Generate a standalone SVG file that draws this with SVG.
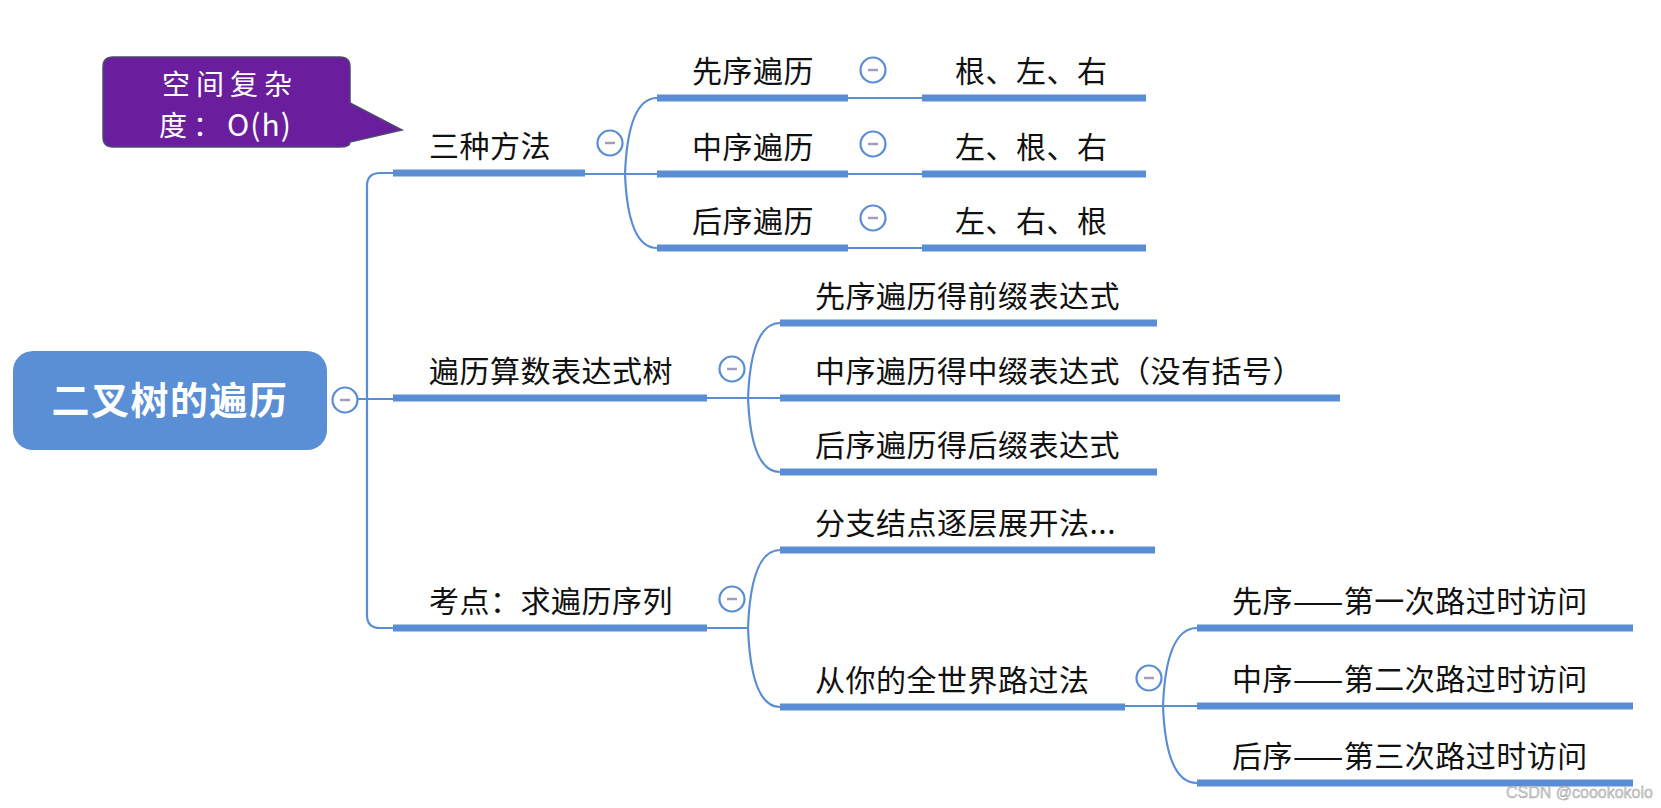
<svg xmlns="http://www.w3.org/2000/svg" width="1661" height="808" viewBox="0 0 1661 808">
<style>
.bg{fill:#ffffff}
.t{font-family:"Noto Sans CJK SC","Noto Sans",sans-serif;font-size:30px;fill:#111111;letter-spacing:0.5px}
.ul{stroke:#5b8dd4;stroke-width:7;fill:none}
.cn{stroke:#5b8dd4;stroke-width:2.2;fill:none}
.cc{fill:#ffffff;stroke:#5b8dd4;stroke-width:2.2}
.cm{stroke:#a49cbc;stroke-width:2.5}
.root{fill:#5a8fd6}
.rt{font-family:"Noto Sans CJK SC","Noto Sans",sans-serif;font-size:38px;font-weight:bold;fill:#ffffff;letter-spacing:1.5px}
.call{fill:#6a1e9e;stroke:#4b4b6b;stroke-width:1.5}
.ct{font-family:"Noto Sans CJK SC","Noto Sans",sans-serif;font-size:28px;fill:#ffffff;letter-spacing:6px}
.wm{font-family:"Liberation Sans","DejaVu Sans",sans-serif;font-size:16px;fill:#d4d4d4;stroke:#9a9a9a;stroke-width:0.4}
</style>
<defs>
<g id="col"><circle class="cc" r="12.5"/><line class="cm" x1="-5" y1="0" x2="5" y2="0"/></g>
</defs>
<rect class="bg" x="0" y="0" width="1661" height="808"/>

<g id="connectors">
  <path class="cn" d="M393 173 H380 Q367 173 367 186 V615 Q367 628 380 628 H393"/>
  <path class="cn" d="M357 399 H393"/>
  <path class="cn" d="M585 174 H657"/>
  <path class="cn" d="M657 98 Q628 98 625 174 Q628 248 657 248"/>
  <path class="cn" d="M848 98 H922"/>
  <path class="cn" d="M848 174 H922"/>
  <path class="cn" d="M848 248 H922"/>
  <path class="cn" d="M707 398 H780"/>
  <path class="cn" d="M780 323 Q751 323 748 398 Q751 472 780 472"/>
  <path class="cn" d="M707 628 H748"/>
  <path class="cn" d="M780 550 Q751 550 748 628 Q751 707 780 707"/>
  <path class="cn" d="M1125 706 H1197"/>
  <path class="cn" d="M1197 628 Q1166 628 1163 706 Q1166 783 1197 783"/>
</g>

<g id="callout">
  <path class="call" d="M113 57 H340 Q350 57 350 67 V103 L402 130 L350 142 Q350 147 340 147 H113 Q103 147 103 137 V67 Q103 57 113 57 Z"/>
  <text class="ct"><tspan x="230" y="95" text-anchor="middle">空间复杂</tspan><tspan x="159" y="136">度：<tspan style="letter-spacing:1px;font-size:30px">O(h)</tspan></tspan></text>
</g>

<g id="root">
  <rect class="root" x="13" y="351" width="314" height="99" rx="20"/>
  <text class="rt" x="170" y="414" text-anchor="middle">二叉树的遍历</text>
  <use href="#col" x="345" y="400"/>
</g>

<g id="n-three">
  <line class="ul" x1="393" y1="173" x2="585" y2="173"/>
  <text class="t" x="429" y="157">三种方法</text>
  <use href="#col" x="610" y="143"/>
</g>
<g id="n-pre">
  <line class="ul" x1="657" y1="98" x2="848" y2="98"/>
  <text class="t" x="692" y="82">先序遍历</text>
  <use href="#col" x="873" y="70"/>
</g>
<g id="n-in">
  <line class="ul" x1="657" y1="174" x2="848" y2="174"/>
  <text class="t" x="692" y="158">中序遍历</text>
  <use href="#col" x="873" y="144"/>
</g>
<g id="n-post">
  <line class="ul" x1="657" y1="248" x2="848" y2="248"/>
  <text class="t" x="692" y="232">后序遍历</text>
  <use href="#col" x="873" y="218"/>
</g>
<g id="n-pre-v">
  <line class="ul" x1="922" y1="98" x2="1146" y2="98"/>
  <text class="t" x="955" y="82">根、左、右</text>
</g>
<g id="n-in-v">
  <line class="ul" x1="922" y1="174" x2="1146" y2="174"/>
  <text class="t" x="955" y="158">左、根、右</text>
</g>
<g id="n-post-v">
  <line class="ul" x1="922" y1="248" x2="1146" y2="248"/>
  <text class="t" x="955" y="232">左、右、根</text>
</g>

<g id="n-expr">
  <line class="ul" x1="393" y1="398" x2="707" y2="398"/>
  <text class="t" x="429" y="382">遍历算数表达式树</text>
  <use href="#col" x="732" y="369"/>
</g>
<g id="n-expr-pre">
  <line class="ul" x1="780" y1="323" x2="1157" y2="323"/>
  <text class="t" x="815" y="307">先序遍历得前缀表达式</text>
</g>
<g id="n-expr-in">
  <line class="ul" x1="780" y1="398" x2="1340" y2="398"/>
  <text class="t" x="815" y="382">中序遍历得中缀表达式（没有括号）</text>
</g>
<g id="n-expr-post">
  <line class="ul" x1="780" y1="472" x2="1157" y2="472"/>
  <text class="t" x="815" y="456">后序遍历得后缀表达式</text>
</g>

<g id="n-exam">
  <line class="ul" x1="393" y1="628" x2="707" y2="628"/>
  <text class="t" x="429" y="612">考点：求遍历序列</text>
  <use href="#col" x="732" y="599"/>
</g>
<g id="n-branch">
  <line class="ul" x1="780" y1="550" x2="1155" y2="550"/>
  <text class="t" x="815" y="534">分支结点逐层展开法...</text>
</g>
<g id="n-world">
  <line class="ul" x1="780" y1="707" x2="1125" y2="707"/>
  <text class="t" x="815" y="691">从你的全世界路过法</text>
  <use href="#col" x="1149" y="678"/>
</g>
<g id="n-w1">
  <line class="ul" x1="1197" y1="628" x2="1633" y2="628"/>
  <text class="t" x="1232" y="612">先序——第一次路过时访问</text>
</g>
<g id="n-w2">
  <line class="ul" x1="1197" y1="706" x2="1633" y2="706"/>
  <text class="t" x="1232" y="690">中序——第二次路过时访问</text>
</g>
<g id="n-w3">
  <line class="ul" x1="1197" y1="783" x2="1633" y2="783"/>
  <text class="t" x="1232" y="767">后序——第三次路过时访问</text>
</g>

<text class="wm" x="1506" y="798">CSDN @coookokolo</text>
</svg>
